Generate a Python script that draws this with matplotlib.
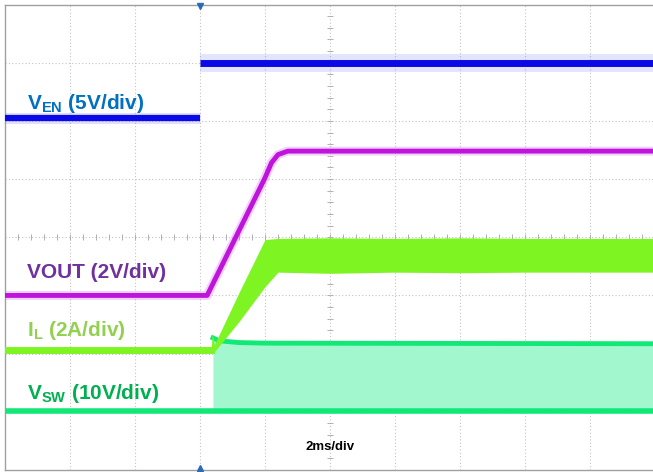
import matplotlib.pyplot as plt
import numpy as np

plt.rcParams["font.family"] = ["Liberation Sans", "DejaVu Sans"]
plt.rcParams["mathtext.fontset"] = "custom"
plt.rcParams["mathtext.rm"] = "Liberation Sans:bold"

# time in divisions (2 ms/div), level in divisions
ven_low_t = [0.0, 3.0]
ven_low_v = [6.05, 6.05]
ven_high_t = [3.0, 9.97]
ven_high_v = [7.0, 7.0]

vout_t = [0.0, 3.11, 4.0, 4.1, 4.2, 4.35, 9.97]
vout_v = [3.0, 3.0, 5.02, 5.28, 5.42, 5.48, 5.48]

il_t = [0.0, 3.17, 3.19, 3.22, 3.6, 4.0, 4.2, 5.0, 6.0, 7.0, 8.0, 9.97]
il_hi = [2.09, 2.09, 2.35, 2.15, 3.05, 3.96, 3.98, 3.99, 3.98, 3.99, 3.98, 3.98]
il_lo = [2.03, 2.03, 2.03, 2.03, 2.55, 3.15, 3.40, 3.38, 3.40, 3.39, 3.40, 3.40]

vsw_low = 1.01
vsw_t = [3.2, 3.3, 3.6, 4.0, 9.97]
vsw_top = [2.27, 2.22, 2.19, 2.18, 2.17]

labels = [r"V$_{\rm EN}$ (5V/div)", "VOUT (2V/div)", r"I$_{\rm L}$ (2A/div)", r"V$_{\rm SW}$ (10V/div)"]
label_y = [6.3, 3.4, 2.39, 1.32]
label_colors = ["#0070c0", "#7030a0", "#92d050", "#00b050"]

fig = plt.figure(figsize=(6.53, 4.72), dpi=100)
ax = fig.add_axes([5 / 653, 2 / 472, 648 / 653, 465.5 / 472])
ax.set_xlim(0, 9.97)
ax.set_ylim(0, 8)

# graticule
for gx in range(1, 10):
    ax.axvline(gx, color="#c4c4c4", lw=0.8, ls=(0, (1, 2)), zorder=0)
for gy in range(1, 8):
    ax.axhline(gy, color="#c4c4c4", lw=0.8, ls=(0, (1, 2)), zorder=0)
minor_x = np.arange(0, 10, 0.2)
minor_y = np.arange(0, 8, 0.2)
ax.plot(minor_x, np.full_like(minor_x, 4.0), ls="none", marker="|", ms=5, mew=0.7, color="#b0b0b0", zorder=0)
ax.plot(np.full_like(minor_y, 5.0), minor_y, ls="none", marker="_", ms=5, mew=0.7, color="#b0b0b0", zorder=0)

# VSW switching band
ax.fill_between(vsw_t, vsw_low, vsw_top, color="#a3f7cf", lw=0, zorder=2)
ax.plot(vsw_t, vsw_top, color="#12e878", lw=3.5, zorder=3)
ax.plot([0, 9.97], [vsw_low, vsw_low], color="#12e878", lw=4, zorder=3)

# IL
ax.fill_between(il_t, il_lo, il_hi, color="#7ef523", lw=0, zorder=4)
ax.plot(il_t[:2], [2.06, 2.06], color="#7ef523", lw=5, zorder=4)

# VOUT
ax.plot(vout_t, vout_v, color="#d070ee", lw=6.5, alpha=0.3, zorder=5)
ax.plot(vout_t, vout_v, color="#c014dc", lw=3.5, zorder=5)

# VEN
ax.plot(ven_low_t, ven_low_v, color="#6a6aff", lw=8, alpha=0.2, zorder=5, solid_capstyle="butt")
ax.plot(ven_high_t, ven_high_v, color="#6a6aff", lw=13, alpha=0.18, zorder=5, solid_capstyle="butt")
ax.plot(ven_low_t, ven_low_v, color="#0a0ae6", lw=4.5, zorder=6, solid_capstyle="butt")
ax.plot(ven_high_t, ven_high_v, color="#0a0ae6", lw=5, zorder=6, solid_capstyle="butt")

# trigger markers
ax.plot([3.0], [7.98], marker="v", ms=5, color="#2a6ab8", clip_on=False, zorder=7)
ax.plot([3.0], [0.03], marker="^", ms=5, color="#2a6ab8", clip_on=False, zorder=7)

for txt, y, c in zip(labels, label_y, label_colors):
    ax.text(0.34, y, txt, color=c, fontsize=15, fontweight="bold", va="center", ha="left", zorder=8)
ax.text(5.0, 0.4, "2ms/div", color="black", fontsize=9.5, fontweight="bold", ha="center", va="center")

ax.set_xticks([])
ax.set_yticks([])
for s in ["top", "bottom", "left"]:
    ax.spines[s].set_color("#a0a0a0")
    ax.spines[s].set_linewidth(1)
ax.spines["right"].set_visible(False)

fig.savefig("out.png", dpi=100)
